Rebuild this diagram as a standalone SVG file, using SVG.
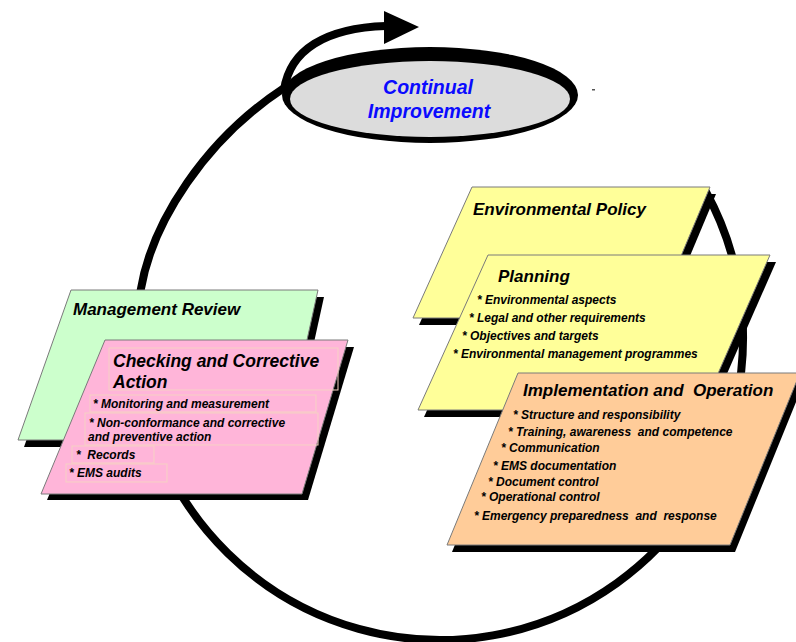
<svg xmlns="http://www.w3.org/2000/svg" width="796" height="642" viewBox="0 0 796 642">
<style>
.ring{fill:none;stroke:#000;stroke-width:8;stroke-linecap:butt}
.shadow{fill:#000}
.box{stroke:#7a7a7a;stroke-width:1}
.green{fill:#ccffcc}
.pink{fill:#ffb5d9}
.yellow{fill:#ffff99}
.orange{fill:#ffcc99}
.tb{fill:none;stroke:#f6d2c4;stroke-width:1}
.title{font-family:"Liberation Sans",Arial,sans-serif;font-weight:bold;font-style:italic;font-size:17px;fill:#000}
.item{font-family:"Liberation Sans",Arial,sans-serif;font-weight:bold;font-style:italic;font-size:12px;fill:#000;white-space:pre}
.ci{font-family:"Liberation Sans",Arial,sans-serif;font-weight:bold;font-style:italic;font-size:19.5px;fill:#0a0aff;text-anchor:middle}
</style>
<rect width="796" height="642" fill="#fff"/>
<g id="connectors">
<path class="ring" d="M705,190 A303,303 0 1 1 140.7,290 C152,222 205,140 284,88"/>
</g>
<g id="management-review">
<polygon class="shadow" points="77,297 324,297 291,447 24,447"/>
<polygon class="box green" points="71,290 318,290 285,440 18,440"/>
<text class="title" x="73" y="315">Management Review</text>
</g>
<g id="checking">
<polygon class="shadow" points="111,347 354,347 308,500 47,500"/>
<polygon class="box pink" points="105,340 348,340 302,494 41,494"/>
<rect class="tb" x="109" y="348" width="229" height="42"/>
<rect class="tb" x="90" y="395" width="226" height="17"/>
<rect class="tb" x="85" y="413" width="233" height="32"/>
<rect class="tb" x="72" y="446" width="82" height="17"/>
<rect class="tb" x="66" y="464" width="101" height="18"/>
<text class="title" style="font-size:17.5px" x="113" y="367">Checking and Corrective</text>
<text class="title" style="font-size:17.5px" x="113" y="388">Action</text>
<text class="item" x="93" y="408">* Monitoring and measurement</text>
<text class="item" x="89" y="427">* Non-conformance and corrective</text>
<text class="item" x="88" y="441">and preventive action</text>
<text class="item" x="76" y="459">*  Records</text>
<text class="item" x="69" y="477">* EMS audits</text>
</g>
<g id="environmental-policy">
<polygon class="shadow" points="478,194 716,194 661,325 419,325"/>
<polygon class="box yellow" points="472,187 710,187 655,318 413,318"/>
<text class="title" x="473" y="215">Environmental Policy</text>
</g>
<g id="planning">
<polygon class="shadow" points="494,262 776,262 708,417 424,417"/>
<polygon class="box yellow" points="488,255 770,255 702,410 418,410"/>
<text class="title" x="498" y="282">Planning</text>
<text class="item" x="477" y="304">* Environmental aspects</text>
<text class="item" x="469" y="322">* Legal and other requirements</text>
<text class="item" x="462" y="340">* Objectives and targets</text>
<text class="item" x="453" y="358">* Environmental management programmes</text>
</g>
<g id="implementation">
<polygon class="shadow" points="523,380 805,380 735,552 452,552"/>
<polygon class="box orange" points="518,373 800,373 730,545 447,545"/>
<text class="title" style="white-space:pre" x="523" y="396">Implementation and  Operation</text>
<text class="item" x="513" y="419">* Structure and responsibility</text>
<text class="item" x="508" y="436">* Training, awareness  and competence</text>
<text class="item" x="501" y="452">* Communication</text>
<text class="item" x="493" y="470">* EMS documentation</text>
<text class="item" x="488" y="486">* Document control</text>
<text class="item" x="481" y="501">* Operational control</text>
<text class="item" x="474" y="520">* Emergency preparedness  and  response</text>
</g>
<g id="continual-improvement">
<ellipse cx="430" cy="95" rx="148" ry="48" fill="#000"/>
<ellipse cx="430" cy="99" rx="140" ry="38" fill="#dcdcdc"/>
<text class="ci" x="428" y="94">Continual</text>
<text class="ci" x="429" y="118">Improvement</text>
<rect x="592" y="89" width="3" height="1.5" fill="#555"/>
</g>
<g id="arrow">
<path class="ring" d="M284,90 C290,50 325,28 386,26"/>
<polygon points="384,11 419,27 384,44" fill="#000"/>
</g>
</svg>
